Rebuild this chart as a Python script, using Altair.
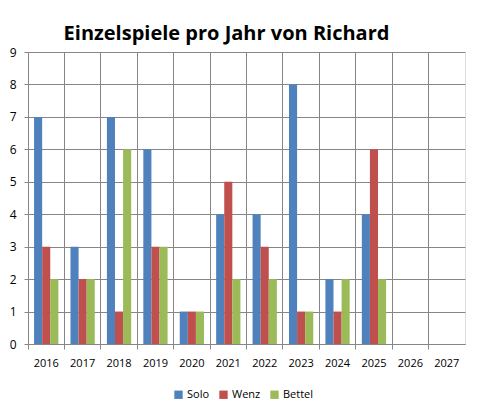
import altair as alt
import pandas as pd

years = ["2016", "2017", "2018", "2019", "2020", "2021", "2022", "2023", "2024", "2025", "2026", "2027"]
data_years = ["2016", "2017", "2018", "2019", "2020", "2021", "2022", "2023", "2024", "2025"]
solo = [7, 3, 7, 6, 1, 4, 4, 8, 2, 4]
wenz = [3, 2, 1, 3, 1, 5, 3, 1, 1, 6]
bettel = [2, 2, 6, 3, 1, 2, 2, 1, 2, 2]
series = ["Solo", "Wenz", "Bettel"]
colors = ["#4F81BD", "#C0504D", "#9BBB59"]
y_ticks = [0, 1, 2, 3, 4, 5, 6, 7, 8, 9]

rows = []
for i, y in enumerate(data_years):
    for s, vals in zip(series, [solo, wenz, bettel]):
        rows.append({"Jahr": y, "Serie": s, "Wert": vals[i]})
df = pd.DataFrame(rows)

grid = "#868686"
font = "Open Sans"

chart = alt.Chart(df).mark_bar().encode(
    x=alt.X("Jahr:N", scale=alt.Scale(domain=years, paddingInner=0, paddingOuter=0),
            axis=alt.Axis(title=None, labelAngle=0, bandPosition=0, grid=True,
                          gridColor=grid, tickColor=grid, domainColor=grid,
                          tickSize=5, labelPadding=8, labelFontSize=11,
                          labelFont=font, labelColor="#000000")),
    xOffset=alt.XOffset("Serie:N", sort=series, scale=alt.Scale(paddingInner=0, paddingOuter=0.75)),
    y=alt.Y("Wert:Q", scale=alt.Scale(domain=[0, 9], nice=False),
            axis=alt.Axis(title=None, values=y_ticks, grid=True, labelOverlap=False,
                          gridColor=grid, tickColor=grid, domainColor=grid,
                          tickSize=4, labelPadding=8, labelFontSize=12,
                          labelFont=font, labelColor="#000000")),
    color=alt.Color("Serie:N", sort=series, scale=alt.Scale(domain=series, range=colors),
                    legend=alt.Legend(title=None, orient="none", direction="horizontal",
                                      legendX=145, legendY=337, symbolType="square",
                                      symbolSize=70, symbolStrokeWidth=0, labelFont=font,
                                      labelFontSize=11, columnPadding=8, labelOffset=3)),
).properties(
    width=437,
    height=292,
    autosize=alt.AutoSizeParams(type="none"),
    padding={"left": 20, "top": 44, "right": 7, "bottom": 63},
    title=alt.TitleParams("Einzelspiele pro Jahr von Richard", fontSize=20, font=font,
                          fontWeight="bold", anchor="middle", dx=-20, offset=2,
                          color="#000000"),
).configure_view(
    stroke=grid, strokeWidth=1
).configure(background="#FFFFFF")

chart.save("out.html", embed_options={"renderer": "svg", "actions": False})
